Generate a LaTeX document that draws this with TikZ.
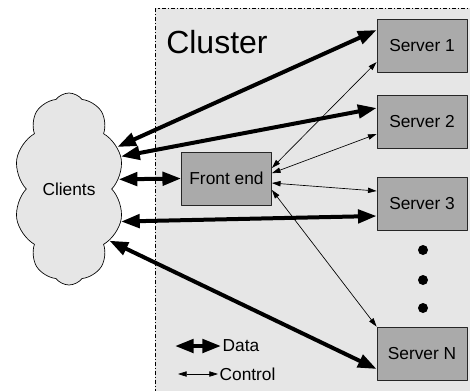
\documentclass[tikz,border=0pt]{standalone}
\usepackage{fontspec}
\setmainfont{Liberation Sans}
\usetikzlibrary{shapes.symbols,arrows.meta}
\definecolor{clustergray}{RGB}{230,230,230}
\definecolor{boxgray}{RGB}{170,170,170}
\begin{document}
\begin{tikzpicture}[x=0.75pt, y=-0.75pt, line join=round,
	box/.style={draw=black!85, line width=0.6pt, fill=boxgray, minimum width=67.5pt, minimum height=39.75pt, inner sep=0pt, font=\fontsize{13}{15}\selectfont},
	data/.style={line width=3pt, {Triangle[length=14pt,width=10pt]}-{Triangle[length=14pt,width=10pt]}},
	ctrl/.style={line width=0.5pt, {Triangle[length=6.5pt,width=4pt]}-{Triangle[length=6.5pt,width=4pt]}}]
	\useasboundingbox (0,0) rectangle (470,390);
	\begin{scope}
		\clip (0,0) rectangle (470,390);
		\draw [fill=clustergray, line width=0.5pt, dash pattern=on 3pt off 1.5pt on 0.8pt off 1.5pt] (155,8) rectangle (480,400);
	\end{scope}
	\node [anchor=west, inner sep=0pt, font=\fontsize{24}{28}\selectfont] (title) at (166,42) {Cluster};
	\node [cloud, cloud puffs=10, cloud puff arc=105, aspect=0.5, draw, line width=0.5pt, fill=clustergray, minimum width=81pt, minimum height=144pt, font=\fontsize{13}{15}\selectfont] (cl) at (69,189) {Clients};
	\node [box] (fe) at (226.5,178.5) {Front end};
	\foreach \n/\t/\y in {s1/Server 1/45.5, s2/Server 2/122, s3/Server 3/204, sn/Server N/353.5}{
		\node [box] (\n) at (422,\y) {\t};
	}
	\foreach \y in {250,280,308}{
		\fill (423,\y) circle (5);
	}
	\draw [data] (cl.41) -- ([yshift=11.6pt]s1.west);
	\draw [data] (cl.32) -- ([yshift=10.5pt]s2.west);
	\draw [data] (cl.11) -- (fe.west);
	\draw [data] (cl.-32) -- ([yshift=-9pt]s3.west);
	\draw [data] (cl.-52) -- ([yshift=-11.6pt]sn.west);
	\draw [ctrl] ([yshift=7.9pt]fe.east) -- ([yshift=-12.4pt]s1.west);
	\draw [ctrl] ([yshift=4pt]fe.east) -- ([yshift=-9pt]s2.west);
	\draw [ctrl] ([yshift=-3.4pt]fe.east) -- ([yshift=9.75pt]s3.west);
	\draw [ctrl] ([yshift=-8.6pt]fe.east) -- (sn.north west);
	\path (175,346) coordinate (d1) ++(46,0) coordinate (d2)
		(178,374) coordinate (c1) ++(40,0) coordinate (c2);
	\draw [data] (d1) -- (d2);
	\draw [ctrl] (c1) -- (c2);
	\node [anchor=west, inner sep=1pt, font=\fontsize{13}{15}\selectfont] (ldata) at (d2) {Data};
	\node [anchor=west, inner sep=1pt, font=\fontsize{13}{15}\selectfont] (lctrl) at (c2) {Control};
\end{tikzpicture}
\end{document}
